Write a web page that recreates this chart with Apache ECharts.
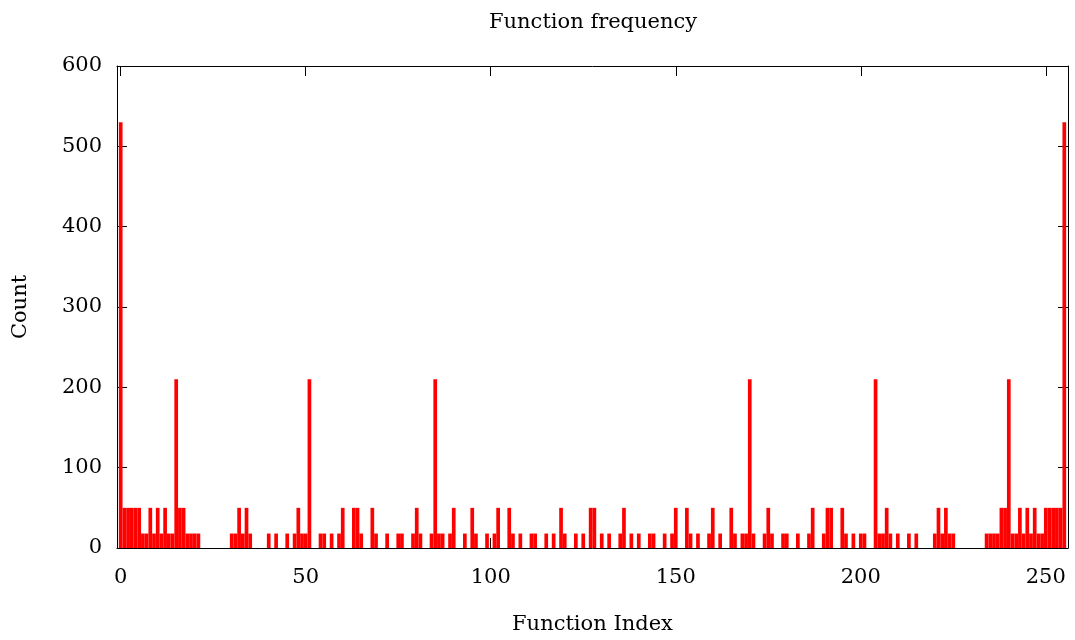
<!DOCTYPE html>
<html>
<head>
<meta charset="utf-8">
<script src="https://cdn.jsdelivr.net/npm/echarts@6/dist/echarts.min.js"></script>
<style>
  html, body { margin: 0; padding: 0; background: #fff; }
  #chart { width: 1075px; height: 640px; }
</style>
</head>
<body>
<div id="chart"></div>
<script>
// counts per function index 0..255 (16 per row)
var counts = [
  530, 50, 50, 50, 50, 50, 18, 18, 50, 18, 50, 18, 50, 18, 18, 210,
  50, 50, 18, 18, 18, 18, 0, 0, 0, 0, 0, 0, 0, 0, 18, 18,
  50, 18, 50, 18, 0, 0, 0, 0, 18, 0, 18, 0, 0, 18, 0, 18,
  50, 18, 18, 210, 0, 0, 18, 18, 0, 18, 0, 18, 50, 0, 0, 50,
  50, 18, 0, 0, 50, 18, 0, 0, 18, 0, 0, 18, 18, 0, 0, 18,
  50, 18, 0, 0, 18, 210, 18, 18, 0, 18, 50, 0, 0, 18, 0, 50,
  18, 0, 0, 18, 0, 18, 50, 0, 0, 50, 18, 0, 18, 0, 0, 18,
  18, 0, 0, 18, 0, 18, 0, 50, 18, 0, 0, 18, 0, 18, 0, 50,
  50, 0, 18, 0, 18, 0, 0, 18, 50, 0, 18, 0, 18, 0, 0, 18,
  18, 0, 0, 18, 0, 18, 50, 0, 0, 50, 18, 0, 18, 0, 0, 18,
  50, 0, 18, 0, 0, 50, 18, 0, 18, 18, 210, 18, 0, 0, 18, 50,
  18, 0, 0, 18, 18, 0, 0, 18, 0, 0, 18, 50, 0, 0, 18, 50,
  50, 0, 0, 50, 18, 0, 18, 0, 18, 18, 0, 0, 210, 18, 18, 50,
  18, 0, 18, 0, 0, 18, 0, 18, 0, 0, 0, 0, 18, 50, 18, 50,
  18, 18, 0, 0, 0, 0, 0, 0, 0, 0, 18, 18, 18, 18, 50, 50,
  210, 18, 18, 50, 18, 50, 18, 50, 18, 18, 50, 50, 50, 50, 50, 530
];
var xTicks = [0, 50, 100, 150, 200, 250];
var xRange = [-1, 256];
var yRange = [0, 600];
var yStep = 100;

var barData = counts.map(function(c, i) { return [i, c]; });

var font = 'DejaVu Serif';

function renderBar(params, api) {
    var v = api.value(1);
    if (!v) return null;
    var x = api.value(0);
    var p0 = api.coord([x - 0.5, v]);
    var p1 = api.coord([x + 0.5, 0]);
    return {
        type: 'rect',
        shape: { x: p0[0], y: p0[1], width: p1[0] - p0[0], height: p1[1] - p0[1] },
        style: { fill: '#ff0000' }
    };
}

var tickStyle = { show: true, inside: true, length: 10, lineStyle: { color: '#000', width: 1 } };
var lineStyle = { show: true, onZero: false, lineStyle: { color: '#000', width: 1 } };

var chart = echarts.init(document.getElementById('chart'), null, { renderer: 'canvas' });
chart.setOption({
    animation: false,
    backgroundColor: '#fff',
    title: {
        text: 'Function frequency',
        left: 489,
        top: 12,
        padding: 0,
        textStyle: { fontFamily: font, fontSize: 21, fontWeight: 'normal', color: '#000' }
    },
    grid: { left: 117, right: 7, top: 66, bottom: 91, containLabel: false },
    xAxis: [{
        type: 'value',
        min: xRange[0],
        max: xRange[1],
        position: 'bottom',
        name: 'Function Index',
        nameLocation: 'middle',
        nameGap: 66,
        nameTextStyle: { fontFamily: font, fontSize: 21, color: '#000' },
        axisLine: lineStyle,
        axisTick: Object.assign({ customValues: xTicks }, tickStyle),
        axisLabel: { customValues: xTicks, margin: 19, fontFamily: font, fontSize: 21, color: '#000' },
        splitLine: { show: false }
    }, {
        type: 'value',
        min: xRange[0],
        max: xRange[1],
        position: 'top',
        axisLine: lineStyle,
        axisTick: Object.assign({ customValues: xTicks }, tickStyle),
        axisLabel: { show: false },
        splitLine: { show: false }
    }],
    yAxis: [{
        type: 'value',
        min: yRange[0],
        max: yRange[1],
        interval: yStep,
        position: 'left',
        name: 'Count',
        nameLocation: 'middle',
        nameGap: 86,
        nameTextStyle: { fontFamily: font, fontSize: 21, color: '#000' },
        axisLine: lineStyle,
        axisTick: tickStyle,
        axisLabel: { margin: 15, fontFamily: font, fontSize: 21, color: '#000' },
        splitLine: { show: false }
    }, {
        type: 'value',
        min: yRange[0],
        max: yRange[1],
        interval: yStep,
        position: 'right',
        axisLine: lineStyle,
        axisTick: tickStyle,
        axisLabel: { show: false },
        splitLine: { show: false }
    }],
    series: [{
        type: 'custom',
        name: 'Function frequency',
        xAxisIndex: 0,
        yAxisIndex: 0,
        renderItem: renderBar,
        encode: { x: 0, y: 1 },
        data: barData
    }]
});
</script>
</body>
</html>
